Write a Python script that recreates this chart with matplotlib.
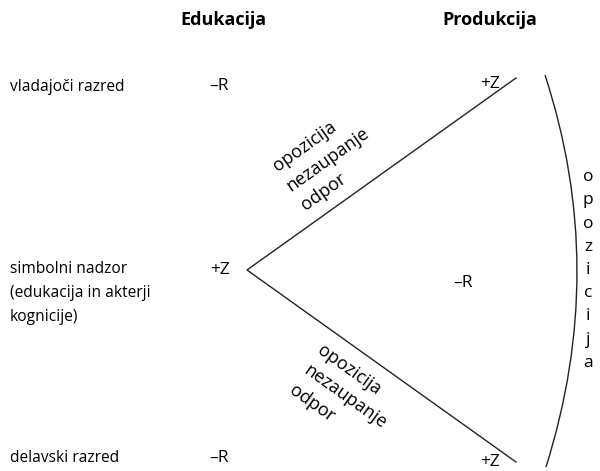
import matplotlib.pyplot as plt
from matplotlib.path import Path
from matplotlib.patches import PathPatch

plt.rcParams['font.family'] = ['Open Sans', 'DejaVu Sans']

# naslova stolpcev
headers = ['Edukacija', 'Produkcija']
header_x = [223, 490]

# vrstice (razredi)
rows = ['vladajoči razred', 'simbolni nadzor\n(edukacija in akterji\nkognicije)', 'delavski razred']
row_y = [87, 293, 458]
edu_signs = ['–R', '+Z', '–R']
edu_x = [219, 220, 219]
edu_y = [86, 270, 458]
prod_signs = ['+Z', '–R', '+Z']
prod_x = [490, 463, 490]
prod_y = [84, 283, 462]

# točke trikotnika
apex = (247, 270)
top_end = (516, 78)
bot_end = (516, 462)

edge_text = 'opozicija\nnezaupanje\nodpor'
side_word = 'opozicija'

fig = plt.figure(figsize=(6, 4.71), dpi=100)
ax = fig.add_axes([0, 0, 1, 1])
ax.set_xlim(0, 600)
ax.set_ylim(471, 0)
ax.axis('off')

fs = 11.2
for h, x in zip(headers, header_x):
    ax.text(x, 20, h, ha='center', va='center', fontsize=13, fontweight='bold')

ax.text(10, row_y[0], rows[0], ha='left', va='center', fontsize=fs)
ax.text(10, row_y[1], rows[1], ha='left', va='center', fontsize=fs, linespacing=1.68)
ax.text(10, row_y[2], rows[2], ha='left', va='center', fontsize=fs)

for s, x, y in zip(edu_signs, edu_x, edu_y):
    ax.text(x, y, s, ha='center', va='center', fontsize=12.5)
for s, x, y in zip(prod_signs, prod_x, prod_y):
    ax.text(x, y, s, ha='center', va='center', fontsize=12.5)

ax.plot([top_end[0], apex[0], bot_end[0]], [top_end[1], apex[1], bot_end[1]],
        color='#222222', lw=1.0)

# lok na desni
verts = [(545, 75), (608.5, 269), (546, 467)]
arc = Path(verts, [Path.MOVETO, Path.CURVE3, Path.CURVE3])
ax.add_patch(PathPatch(arc, fill=False, ec='#222222', lw=1.0))

ax.text(328, 159, edge_text, ha='center', va='center', fontsize=13,
        rotation=35.5, rotation_mode='anchor', multialignment='left', linespacing=1.45)
ax.text(345, 397, edge_text, ha='center', va='center', fontsize=13,
        rotation=-35.5, rotation_mode='anchor', multialignment='left', linespacing=1.45)

ax.text(588, 270, '\n'.join(side_word), ha='center', va='center', fontsize=12.5,
        linespacing=1.6)

fig.savefig('out.png', dpi=100)
